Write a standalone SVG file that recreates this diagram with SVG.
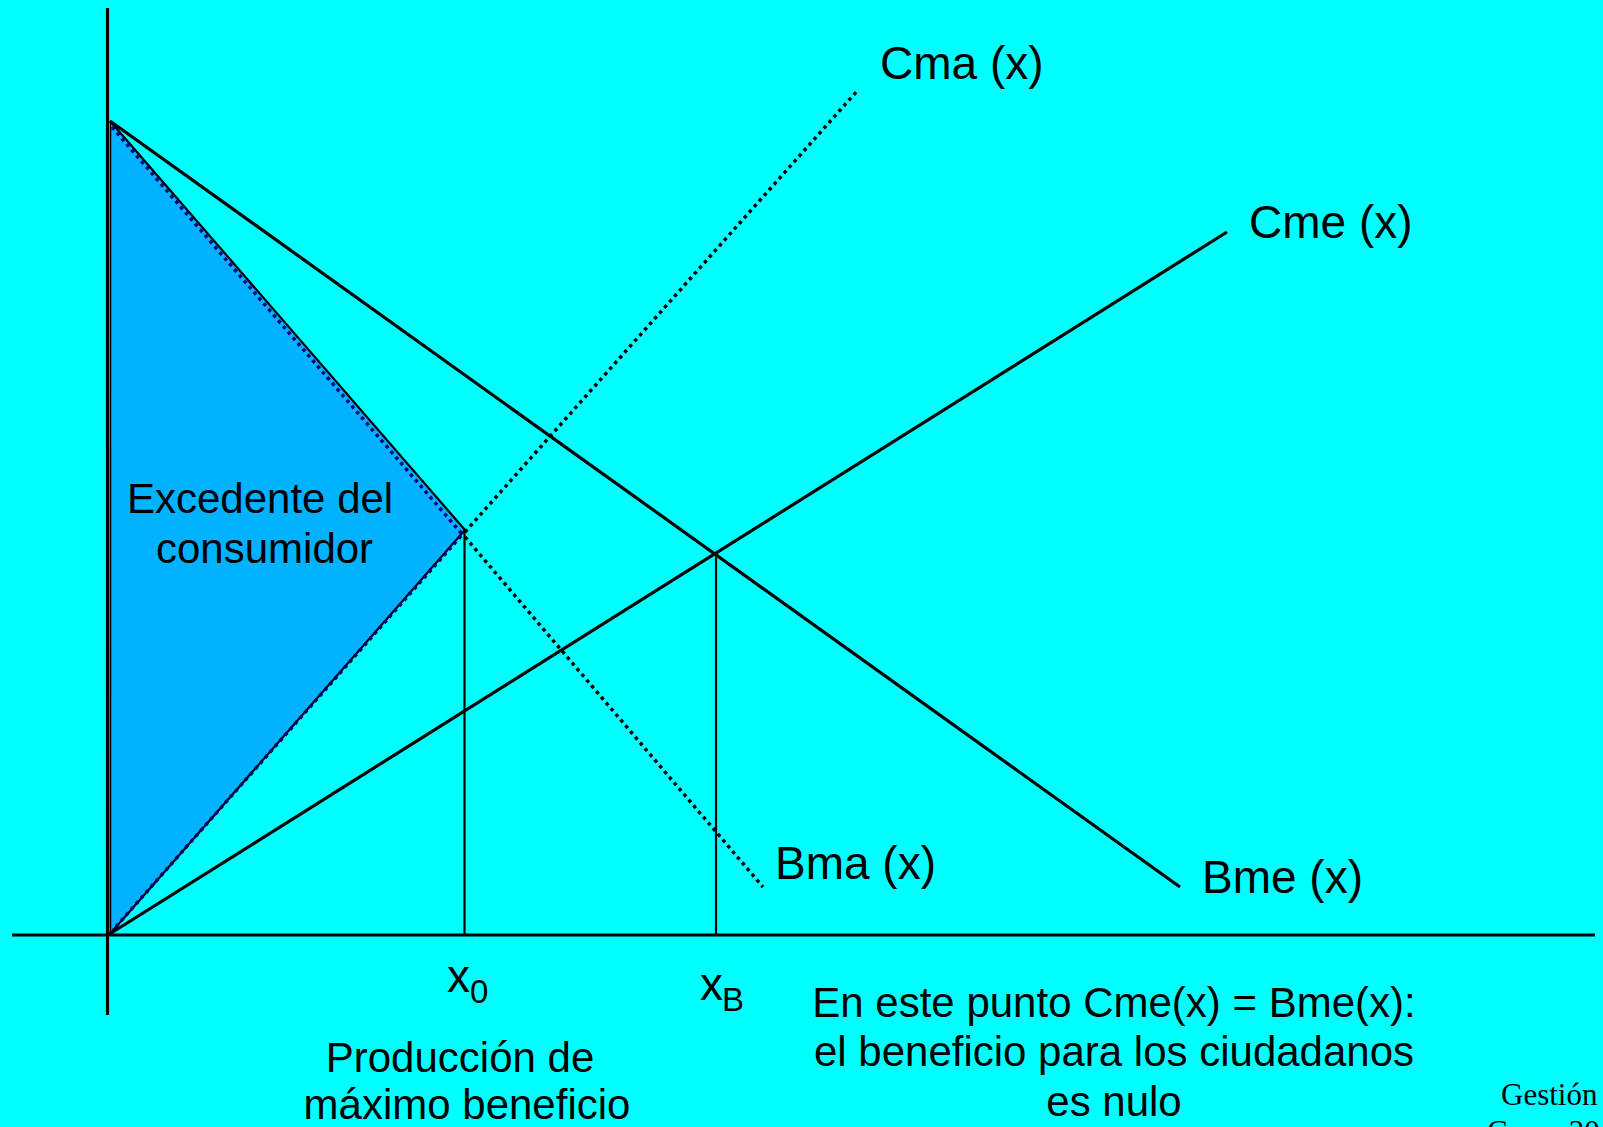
<svg xmlns="http://www.w3.org/2000/svg" width="1603" height="1127" viewBox="0 0 1603 1127">
<style>
.solid{stroke:#000;stroke-width:3.2;fill:none}
.thin{stroke:#000;stroke-width:2.2;fill:none}
.dot{stroke:#000;stroke-width:3.5;fill:none;stroke-dasharray:3.5 4}
.dotn{stroke:#000080;stroke-width:3.5;fill:none;stroke-dasharray:3.5 4}
.lbl{font-family:"Liberation Sans",Arial,sans-serif;font-size:46px;fill:#000}
.txt{font-family:"Liberation Sans",Arial,sans-serif;font-size:42px;fill:#000}
.sub{font-family:"Liberation Sans",Arial,sans-serif;font-size:33px;fill:#000}
.foot{font-family:"Liberation Serif","Times New Roman",serif;font-size:31px;fill:#000}
</style>
<rect x="0" y="0" width="1603" height="1127" fill="#00FFFF"/>
<g id="excedente">
<polygon points="110,121 465,530 109,935" fill="#00B2FF"/>
<line x1="110.5" y1="121" x2="110.5" y2="935" stroke="#000" stroke-width="1.5"/>
<line x1="110" y1="121" x2="465" y2="530" class="thin" stroke-width="2.8"/>
<line x1="465" y1="530" x2="109" y2="935" class="thin" stroke-width="2.8"/>
<line x1="112" y1="127" x2="462" y2="534" class="dotn"/>
<line x1="461" y1="536" x2="113" y2="930" class="dotn"/>
<text class="txt" x="127" y="513">Excedente del</text>
<text class="txt" x="156" y="563">consumidor</text>
</g>
<g id="connectors">
<line x1="107.5" y1="8" x2="107.5" y2="1015" class="solid" stroke-width="2.5"/>
<line x1="12" y1="935" x2="1595" y2="935" class="solid"/>
<line x1="110" y1="121" x2="1180" y2="887" class="solid"/>
<line x1="108" y1="935" x2="1227" y2="232" class="solid"/>
<line x1="465" y1="537" x2="763" y2="887" class="dot"/>
<line x1="465" y1="532" x2="858" y2="90" class="dot"/>
<line x1="464.5" y1="530" x2="464.5" y2="935" class="thin"/>
<line x1="716" y1="553" x2="716" y2="935" class="thin"/>
</g>
<g id="labels">
<text class="lbl" x="880" y="79">Cma (x)</text>
<text class="lbl" x="1249" y="238">Cme (x)</text>
<text class="lbl" x="775" y="879">Bma (x)</text>
<text class="lbl" x="1202" y="893">Bme (x)</text>
</g>
<g id="x0">
<text class="lbl" x="447" y="992">x</text>
<text class="sub" x="470" y="1003">0</text>
</g>
<g id="xB">
<text class="lbl" x="700" y="1000">x</text>
<text class="sub" x="722" y="1011">B</text>
</g>
<g id="nota-x0">
<text class="txt" x="460" y="1072" text-anchor="middle">Producción de</text>
<text class="txt" x="467" y="1119" text-anchor="middle">máximo beneficio</text>
</g>
<g id="nota-xB">
<text class="txt" x="1114" y="1017" text-anchor="middle">En este punto Cme(x) = Bme(x):</text>
<text class="txt" x="1114" y="1066" text-anchor="middle">el beneficio para los ciudadanos</text>
<text class="txt" x="1114" y="1116" text-anchor="middle">es nulo</text>
</g>
<g id="pie">
<text class="foot" x="1501" y="1105">Gestión</text>
<text class="foot" x="1487" y="1142">Curso 20</text>
</g>
</svg>
